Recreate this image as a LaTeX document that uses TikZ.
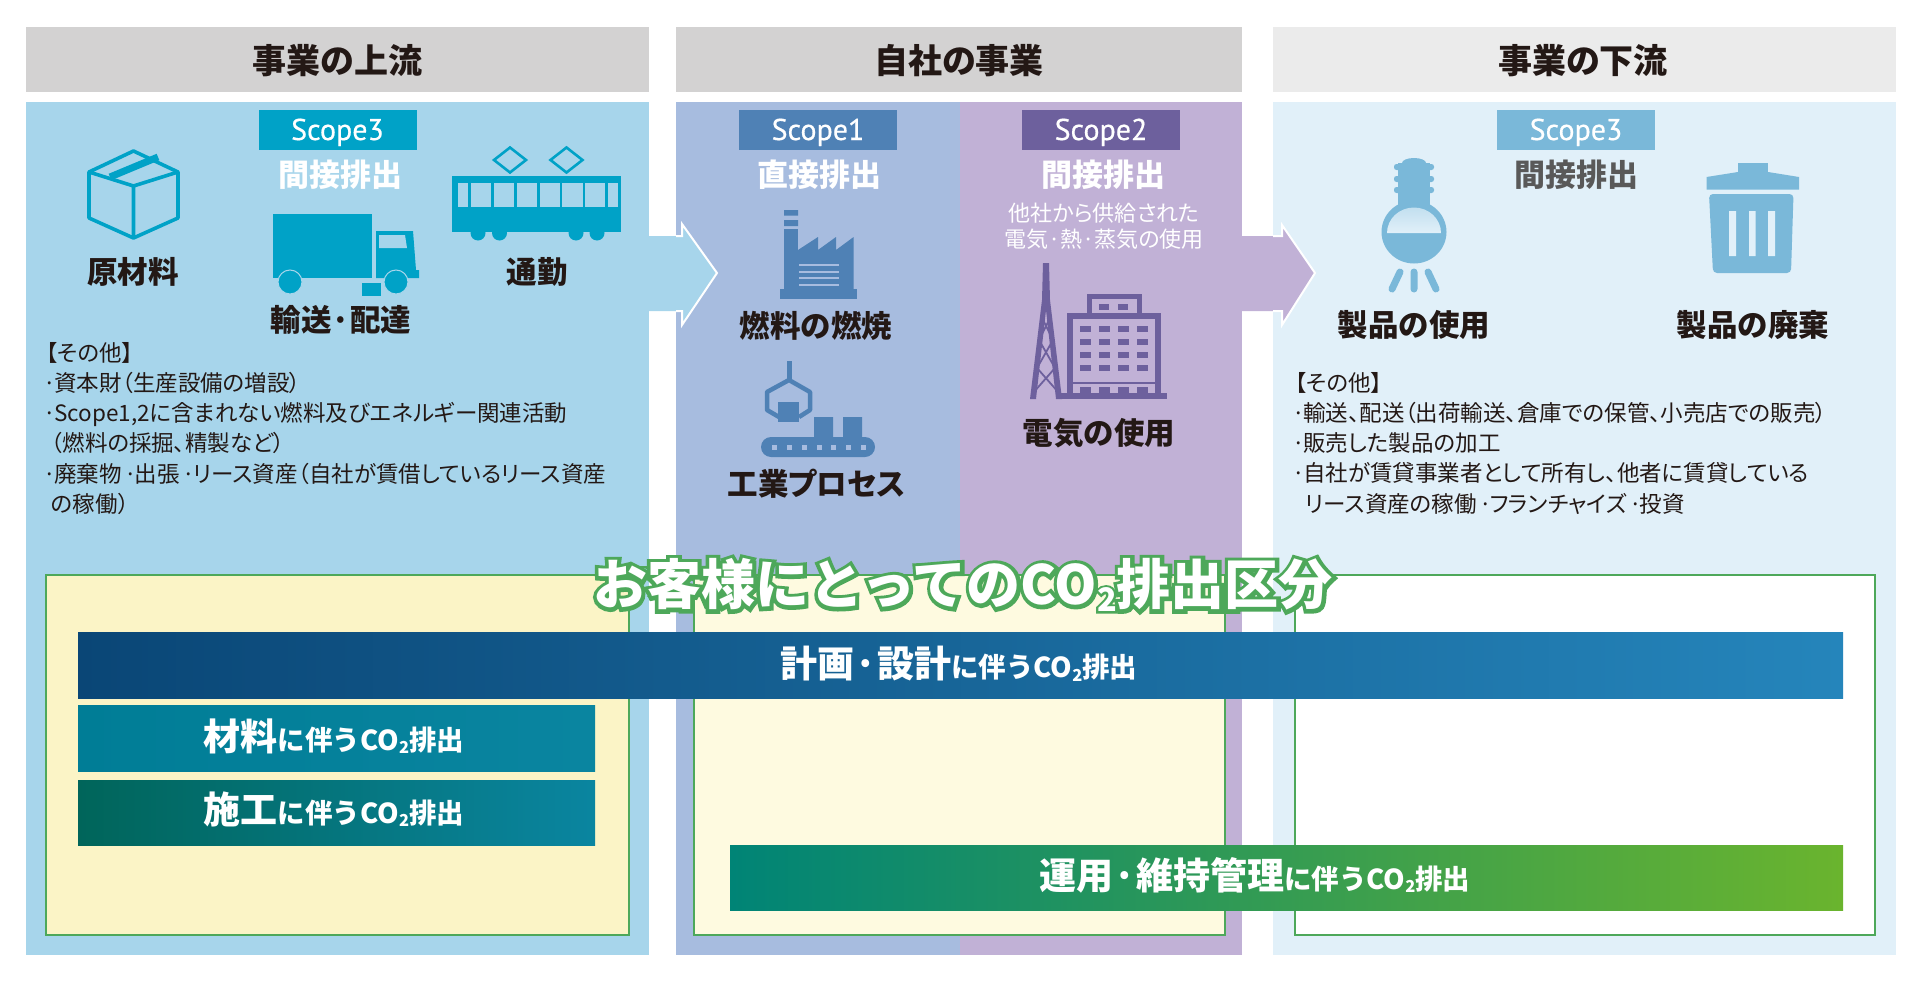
\documentclass[tikz,border=0pt]{standalone}
\usepackage{fontspec}
\setmainfont[RawFeature=+palt]{Noto Sans CJK JP}
\setsansfont[FakeBold=.5]{PT Sans}
\newfontfamily\widefont{Noto Sans CJK JP}
\newfontfamily\titlefont[BoldFeatures={FakeBold=14}]{Noto Sans CJK JP}
\newcommand{\fsz}[1]{\fontsize{#1}{#1}\selectfont}
\newcommand{\subtwo}{\raisebox{-0.12em}{\scalebox{.6}{2}}}
\newcommand{\dt}{\kern-.1em·\kern-.1em}
\newcommand{\tightlines}{\lineskiplimit=-100pt\relax}
\newcommand{\covertext}{お客様にとってのCO\subtwo 排出区分}
\definecolor{inkc}{HTML}{231815}
\definecolor{headc}{HTML}{D3D2D2}
\definecolor{headd}{HTML}{EBEBEB}
\definecolor{upc}{HTML}{A7D5EB}
\definecolor{oneC}{HTML}{A7BCDF}
\definecolor{twoC}{HTML}{C1B1D6}
\definecolor{downc}{HTML}{E1F0F9}
\definecolor{iconup}{HTML}{00A2C7}
\definecolor{iconone}{HTML}{4F81B5}
\definecolor{icontwo}{HTML}{6D609D}
\definecolor{icondown}{HTML}{7AB8D9}
\definecolor{greenl}{HTML}{4DA85A}
\definecolor{yellowa}{HTML}{FBF4C6}
\definecolor{yellowb}{HTML}{FEFAE0}
\definecolor{barblue}{HTML}{0A4676}
\definecolor{barbluer}{HTML}{2585BB}
\definecolor{barteal}{HTML}{007D96}
\definecolor{bartealr}{HTML}{0A85A0}
\definecolor{bardeep}{HTML}{00655A}
\definecolor{bargreen}{HTML}{008476}
\definecolor{bargreenr}{HTML}{6AB42E}
\tikzset{
  headbox/.style={fill=headc,text=inkc,minimum height=64,text height=29,text depth=0,font=\fsz{34}\bfseries,inner sep=0},
  scopebox/.style={minimum width=158,minimum height=40,text height=20,text depth=0,inner sep=0,text=white,font=\sffamily\fsz{30}},
  emit/.style={font=\fsz{31}\bfseries,text=white,inner sep=0},
  item/.style={font=\fsz{30.5}\bfseries,text=inkc,inner sep=0},
  other/.style={font=\fontsize{22.5}{30.2}\selectfont\tightlines,text=inkc,align=left,inner sep=0,anchor=north west},
  barlabel/.style={font=\widefont\bfseries,text=white,inner sep=0},
  frame/.style={draw=greenl,line width=1.8}
}
\begin{document}
\begin{tikzpicture}[x=1pt,y=-1pt]
  \useasboundingbox (0,0) rectangle (1920,982);
  \node[headbox,minimum width=623] (up) at (337.5,59.5) {事業の上流};
  \node[headbox,minimum width=566] (own) at (959,59.5) {自社の事業};
  \node[headbox,minimum width=623,fill=headd] (down) at (1584.5,59.5) {\kern-3pt事業の下流};

  \fill[upc] (26,102) rectangle (649,955);
  \fill[oneC] (676,102) rectangle (960,955);
  \fill[twoC] (960,102) rectangle (1242,955);
  \fill[downc] (1273,102) rectangle (1896,955);

  \fill[upc] (649,236) -- (682,236) -- (682,224) -- (717,273) -- (682,325) -- (682,311) -- (649,311) -- cycle;
  \draw[white,line width=2] (676,236) -- (682,236) -- (682,224) -- (717,273) -- (682,325) -- (682,311) -- (676,311);
  \fill[twoC] (1242,236) -- (1282,236) -- (1282,225) -- (1315,273) -- (1282,325) -- (1282,311) -- (1242,311) -- cycle;
  \draw[white,line width=2] (1273,236) -- (1282,236) -- (1282,225) -- (1315,273) -- (1282,325) -- (1282,311) -- (1273,311);

  \node[scopebox,fill=iconup] (sc3a) at (337.5,130) {Scope3};
  \node[emit] (em3a) at (340,175) {間接排出};
  \node[scopebox,fill=iconone] (sc1) at (818,130) {Scope1};
  \node[emit] (em1) at (819,175) {直接排出};
  \node[scopebox,fill=icontwo] (sc2) at (1101,130) {Scope2};
  \node[emit] (em2) at (1103,175) {間接排出};
  \node[scopebox,fill=icondown] (sc3b) at (1576,130) {Scope3};
  \node[emit,text=black!65] (em3b) at (1576,175) {間接排出};
  \node[font=\fsz{22},text=white,align=center,inner sep=0] (sup) at (1104,226) {他社から供給された\\[4pt]電気·熱·蒸気の使用};

  \draw[iconup,line width=3.6,line join=round] (133.5,151) -- (178,172) -- (178,218) -- (133.5,238) -- (89,218) -- (89,172) -- cycle;
  \draw[iconup,line width=3.6,line join=round] (89,172) -- (133.5,186) -- (178,172) (133.5,186) -- (133.5,238);
  \draw[iconup,line width=7] (110,177) -- (158,157);
  \fill[iconup] (273,214) rectangle (372,278);
  \fill[iconup] (376,231) -- (413,231) -- (416,270) -- (419,270) -- (419,278) -- (376,278) -- cycle;
  \fill[upc] (379,235) -- (405,235) -- (407,248) -- (379,248) -- cycle;
  \draw[fill=iconup,draw=upc,line width=1] (290,282) circle (12);
  \draw[fill=iconup,draw=upc,line width=1] (396,282) circle (12);
  \fill[iconup] (362,283) rectangle (381,296);
  \fill[iconup] (452,176) rectangle (621,232);
  \foreach \xa/\xb in {457.5/468,470.5/491,494/514,517/537,539.5/560,562/582.5,585/605,607.5/618}
    \fill[upc] (\xa,183) rectangle (\xb,207);
  \foreach \xa in {478,499.5,576,597}
    \fill[iconup] (\xa,233) circle (7.5);
  \foreach \xa in {510,566.5}
    \draw[iconup,line width=2.6] (\xa-16,160) -- (\xa,147.5) -- (\xa+16,160) -- (\xa,172.5) -- cycle;
  \node[item] (raw) at (133,271.5) {原材料};
  \node[item] (ship) at (341,320) {輸送·配達};
  \node[item] (commute) at (537,271.5) {通勤};

  \node[other] (oa) at (46,342) {【その他】\\\dt 資本財（生産設備の増設）\\\dt Scope1,2に含まれない燃料及びエネルギー関連活動\\\ （燃料の採掘、精製など）\\\dt 廃棄物 \dt 出張 \dt リース資産（自社が賃借しているリース資産\\\ の稼働）};

  \fill[iconone] (784,229) rectangle (798,250);
  \fill[iconone] (784,210) rectangle (798,215.5) (784,220) rectangle (798,226);
  \fill[iconone] (784,250) -- (798,250) -- (818,237) -- (818,250) -- (836,237) -- (836,250) -- (853.6,237) -- (853.6,289) -- (784,289) -- cycle;
  \fill[iconone] (779.5,289) rectangle (856.5,299);
  \foreach \ya in {265,272,278,285}
    \draw[oneC,line width=1.2] (799,\ya) -- (839,\ya);
  \node[item] (fuel) at (816,326) {燃料の燃焼};
  \draw[iconone,line width=5] (789,361) -- (789,380);
  \draw[iconone,line width=4.5,line join=round] (779,417) -- (767,410) -- (767,392) -- (789,380) -- (810,392) -- (810,410) -- (799,417);
  \fill[iconone] (778,402) rectangle (799,422);
  \fill[iconone] (814,417) rectangle (833,437) (843,417) rectangle (862,437);
  \fill[iconone,rounded corners=10] (761,437) rectangle (875,457);
  \foreach \xa in {774.5,789,804,819,833,848,863}
    \fill[oneC] (\xa-2.5,444.5) rectangle (\xa+2.5,449.5);
  \node[item] (proc) at (816.6,484) {工業プロセス};

  \fill[icontwo] (1043,263) -- (1049,263) -- (1050,300) -- (1062,399) -- (1056,399) -- (1046,310) -- (1036,399) -- (1030,399) -- (1042,300) -- cycle;
  \draw[icontwo,line width=1.8] (1042,318) -- (1053,340) -- (1037,368) -- (1059,393) (1050,318) -- (1039,340) -- (1055,368) -- (1033,393);
  \fill[icontwo] (1058,393) rectangle (1167,399);
  \draw[icontwo,line width=6] (1070,393) -- (1070,316) -- (1158,316) -- (1158,393);
  \draw[icontwo,line width=5] (1089,316) -- (1089,296) -- (1139,296) -- (1139,316);
  \draw[icontwo,line width=2] (1073,383) -- (1155,383);
  \foreach \xa in {1104.4,1123.4}
    \fill[icontwo] (\xa-5,304) rectangle (\xa+5,310);
  \foreach \xa in {1085.5,1104.4,1123.4,1142.3} {
    \foreach \ya in {329,342,355,368}
      \fill[icontwo] (\xa-5.2,\ya-3) rectangle (\xa+5.2,\ya+3);
    \fill[icontwo] (\xa-5.2,387) rectangle (\xa+5.2,393);
  }
  \node[item] (power) at (1099,433) {電気の使用};

  \fill[icondown,rounded corners=2.5] (1394,164) rectangle (1434,170) (1394,176) rectangle (1434,182) (1394,187) rectangle (1434,193);
  \fill[icondown] (1414,163) ellipse (12 and 5);
  \fill[icondown] (1398,163) rectangle (1430,215);
  \fill[icondown] (1414,232) ellipse (32.5 and 31.5);
  \shade[top color=downc!70!icondown,bottom color=downc] (1387,233) arc (180:360:27 and 25.5) -- cycle;
  \draw[icondown,line width=7,line cap=round] (1414,272) -- (1414,289) (1400,272) -- (1392,289) (1428,272) -- (1436,289);
  \node[item] (use) at (1414,325) {製品の使用};
  \fill[icondown] (1738,163) rectangle (1768,175);
  \fill[icondown] (1706.5,177) -- (1738,172) -- (1768,172) -- (1799,177) -- (1799,189.5) -- (1706.5,189.5) -- cycle;
  \fill[icondown,rounded corners=4] (1709,194) -- (1793.5,194) -- (1791,273) -- (1713,273) -- cycle;
  \fill[downc] (1729,211) rectangle (1736,256) (1749,211) rectangle (1755.5,256) (1768,211) rectangle (1775,256);
  \node[item] (waste) at (1753,325) {製品の廃棄};

  \node[other] (ob) at (1295,372) {【その他】\\\dt 輸送、配送（出荷輸送、倉庫での保管、小売店での販売）\\\dt 販売した製品の加工\\\dt 自社が賃貸事業者として所有し、他者に賃貸している\\\ \ リース資産の稼働 \dt フランチャイズ \dt 投資};

  \draw[frame,fill=yellowa] (46,575) rectangle (629,935);
  \draw[frame,fill=yellowb] (694,575) rectangle (1225,935);
  \draw[frame,fill=white] (1295,575) rectangle (1875,935);

  \shade[left color=barblue,right color=barbluer] (78,632) rectangle (1843,698);
  \shade[left color=barteal,right color=bartealr] (78,705) rectangle (595,771);
  \shade[left color=bardeep,right color=bartealr] (78,780) rectangle (595,845);
  \shade[left color=bargreen,right color=bargreenr] (730,845) rectangle (1843,910);

  \node[barlabel] (plan) at (959,664) {\fsz{37}計画·設計\fsz{27.5}に伴うCO\subtwo 排出};
  \node[barlabel] (mat) at (334,736) {\fsz{37}材料\fsz{27.5}に伴うCO\subtwo 排出};
  \node[barlabel] (work) at (334,809) {\fsz{37}施工\fsz{27.5}に伴うCO\subtwo 排出};
  \node[barlabel] (run) at (1255,875) {\fsz{37}運用·維持管理\fsz{27.5}に伴うCO\subtwo 排出};

  \node[inner sep=0,font=\fsz{54}] (title) at (963,585) {\rlap{\color{greenl}\titlefont\bfseries\covertext}\color{white}\widefont\bfseries\covertext};
\end{tikzpicture}
\end{document}
